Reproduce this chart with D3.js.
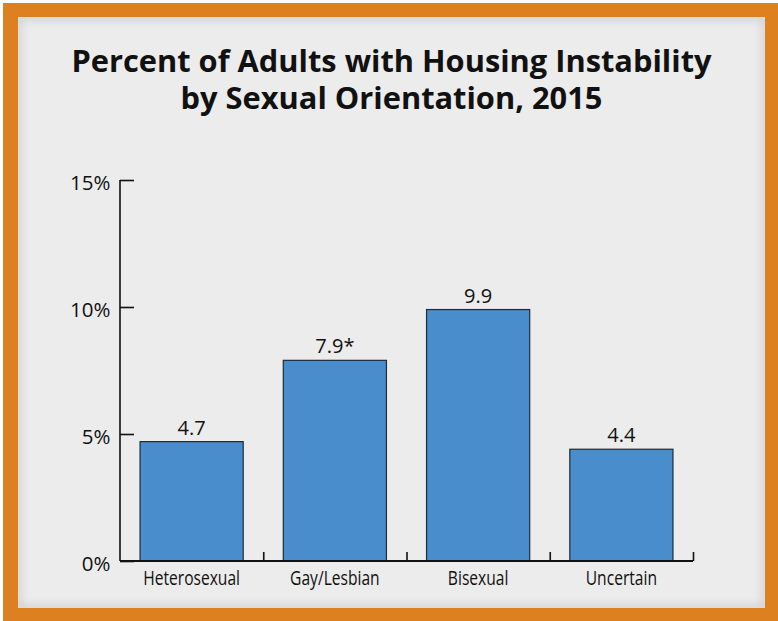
<!DOCTYPE html>
<html>
<head>
<meta charset="utf-8">
<script src="https://cdn.jsdelivr.net/npm/d3@7"></script>
<style>
  html, body { margin: 0; padding: 0; background: #ffffff; }
  svg { display: block; }
</style>
</head>
<body>
<div id="chart"></div>
<script>
const titleLines = ["Percent of Adults with Housing Instability", "by Sexual Orientation, 2015"];
const categories = ["Heterosexual", "Gay/Lesbian", "Bisexual", "Uncertain"];
const values = [4.7, 7.9, 9.9, 4.4];
const valueLabels = ["4.7", "7.9*", "9.9", "4.4"];
const yTicks = [0, 5, 10, 15];
const yTickLabels = ["0%", "5%", "10%", "15%"];

const W = 778, H = 621;
const svg = d3.select("#chart").append("svg").attr("width", W).attr("height", H);

const defs = svg.append("defs");
const f = defs.append("filter").attr("id", "blur").attr("x", "-10%").attr("y", "-10%").attr("width", "120%").attr("height", "120%");
f.append("feGaussianBlur").attr("stdDeviation", 4);
defs.append("clipPath").attr("id", "panelClip").append("rect")
  .attr("x", 18).attr("y", 17).attr("width", 747).attr("height", 591);

// frame
svg.append("rect").attr("x", 0).attr("y", 0).attr("width", W).attr("height", H).attr("fill", "#ffffff");
svg.append("rect").attr("x", 3).attr("y", 3).attr("width", W - 3).attr("height", H - 3).attr("fill", "#dc8020");
svg.append("rect").attr("x", 18).attr("y", 17).attr("width", 747).attr("height", 591).attr("fill", "#ececec");
svg.append("g").attr("clip-path", "url(#panelClip)")
  .append("rect").attr("x", 18).attr("y", 17).attr("width", 747).attr("height", 591)
  .attr("fill", "none").attr("stroke", "rgba(0,0,0,0.13)").attr("stroke-width", 6)
  .attr("filter", "url(#blur)");

// title (two separate lines)
svg.append("g").selectAll("text").data(titleLines).join("text")
  .attr("x", 391.5).attr("y", (d, i) => 72 + i * 36.5)
  .attr("text-anchor", "middle")
  .attr("font-family", "'Open Sans', 'Noto Sans', sans-serif")
  .attr("font-weight", "bold")
  .attr("font-size", 30.8)
  .attr("fill", "#111")
  .text(d => d);

// scales
const x = d3.scaleBand().domain(categories).range([120, 693]).paddingInner(0.28).paddingOuter(0.14);
const xEdges = d3.scaleLinear().domain([0, categories.length]).range([120, 693]);
const y = d3.scaleLinear().domain([0, 15]).range([561, 180]);

// bars
svg.append("g").selectAll("rect").data(values).join("rect")
  .attr("x", (d, i) => x(categories[i]))
  .attr("y", d => y(d))
  .attr("width", x.bandwidth())
  .attr("height", d => y(0) - y(d))
  .attr("fill", "#4a8dcc")
  .attr("stroke", "#1c2a3a")
  .attr("stroke-width", 1.2);

// value labels
svg.append("g").selectAll("text").data(values).join("text")
  .attr("x", (d, i) => x(categories[i]) + x.bandwidth() / 2)
  .attr("y", d => y(d) - 7)
  .attr("text-anchor", "middle")
  .attr("font-family", "'Open Sans', 'Noto Sans', sans-serif")
  .attr("font-size", 20)
  .attr("fill", "#111")
  .text((d, i) => valueLabels[i]);

// y axis
const yAxis = svg.append("g").attr("transform", "translate(120,0)")
  .call(d3.axisLeft(y).tickValues(yTicks).tickSize(-14).tickPadding(9.5).tickFormat((d, i) => yTickLabels[i]));
yAxis.select(".domain").attr("stroke", "#111").attr("stroke-width", 1.6).attr("d", `M0,${y(15)}V${y(0)}`);
yAxis.selectAll(".tick line").attr("stroke", "#111").attr("stroke-width", 1.6);
yAxis.selectAll(".tick text")
  .attr("font-family", "'Open Sans', 'Noto Sans', sans-serif")
  .attr("font-size", 20.5)
  .attr("fill", "#111")
  .attr("dy", "0.45em");

// x axis: edges ticks
const xAxisEdges = svg.append("g").attr("transform", `translate(0,${y(0)})`)
  .call(d3.axisBottom(xEdges).tickValues([1, 2, 3, 4]).tickSize(-9).tickFormat(""));
xAxisEdges.select(".domain").attr("stroke", "#111").attr("stroke-width", 2).attr("d", `M120,0H693`);
xAxisEdges.selectAll(".tick line").attr("stroke", "#111").attr("stroke-width", 1.6);

// x category labels (condensed look via horizontal scale)
const xAxis = svg.append("g").attr("transform", `translate(0,${y(0)})`)
  .call(d3.axisBottom(x).tickSize(0).tickPadding(10));
xAxis.select(".domain").remove();
xAxis.selectAll(".tick text")
  .attr("font-family", "'Open Sans', 'Noto Sans', sans-serif")
  .attr("font-size", 20)
  .attr("fill", "#111")
  .attr("dy", "0.71em")
  .attr("transform", "scale(0.78,1)");
</script>
</body>
</html>
